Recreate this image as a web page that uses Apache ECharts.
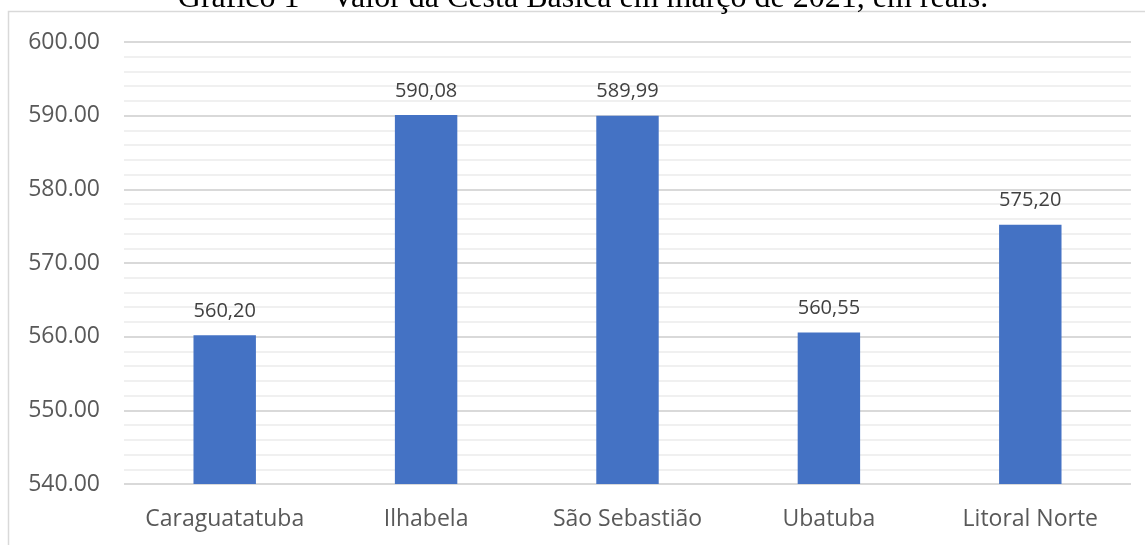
<!DOCTYPE html>
<html>
<head>
<meta charset="utf-8">
<script src="https://cdn.jsdelivr.net/npm/echarts@6/dist/echarts.min.js"></script>
<style>html,body{margin:0;padding:0;background:#fff}#c{width:1145px;height:545px}</style>
</head>
<body>
<div id="c"></div>
<script>
const categories = ['Caraguatatuba', 'Ilhabela', 'São Sebastião', 'Ubatuba', 'Litoral Norte'];
const values = [560.20, 590.08, 589.99, 560.55, 575.20];
const titleText = 'Gráfico 1 – Valor da Cesta Básica em março de 2021, em reais.';

const chart = echarts.init(document.getElementById('c'), null, {renderer: 'canvas'});
chart.setOption({
  backgroundColor: '#fff',
  animation: false,
  graphic: [
    {type: 'rect', silent: true, z: -1,
     shape: {x: 8.5, y: 11.5, width: 1200, height: 600},
     style: {fill: 'none', stroke: '#d9d9d9', lineWidth: 1.5}},
    {type: 'text', silent: true, z: 10,
     style: {text: titleText, x: 583, y: 14.5, textAlign: 'center', textVerticalAlign: 'bottom',
             font: '32px "Liberation Serif", "Times New Roman", serif', fill: '#000'}}
  ],
  grid: {left: 124, right: 14, top: 42, bottom: 61, containLabel: false},
  xAxis: {
    type: 'category',
    data: categories,
    axisLine: {show: false},
    axisTick: {show: false},
    axisLabel: {color: '#595959', fontSize: 23, fontFamily: '"Open Sans", sans-serif', margin: 24,
                interval: 0, hideOverlap: false}
  },
  yAxis: {
    type: 'value',
    min: 540, max: 600, interval: 10,
    axisLine: {show: false},
    axisTick: {show: false},
    axisLabel: {color: '#595959', fontSize: 23, fontFamily: '"Open Sans", sans-serif', margin: 24,
                formatter: v => v.toFixed(2)},
    splitLine: {lineStyle: {color: '#d9d9d9', width: 2}},
    minorTick: {show: false, splitNumber: 5},
    minorSplitLine: {show: true, lineStyle: {color: '#f0f0f0', width: 2}}
  },
  series: [{
    type: 'bar',
    data: values,
    barWidth: '31%',
    itemStyle: {color: '#4472C4'},
    label: {show: true, position: 'top', distance: 14, color: '#404040', fontSize: 20,
            fontFamily: '"Open Sans", sans-serif',
            formatter: p => p.value.toFixed(2).replace('.', ',')}
  }]
});
</script>
</body>
</html>
